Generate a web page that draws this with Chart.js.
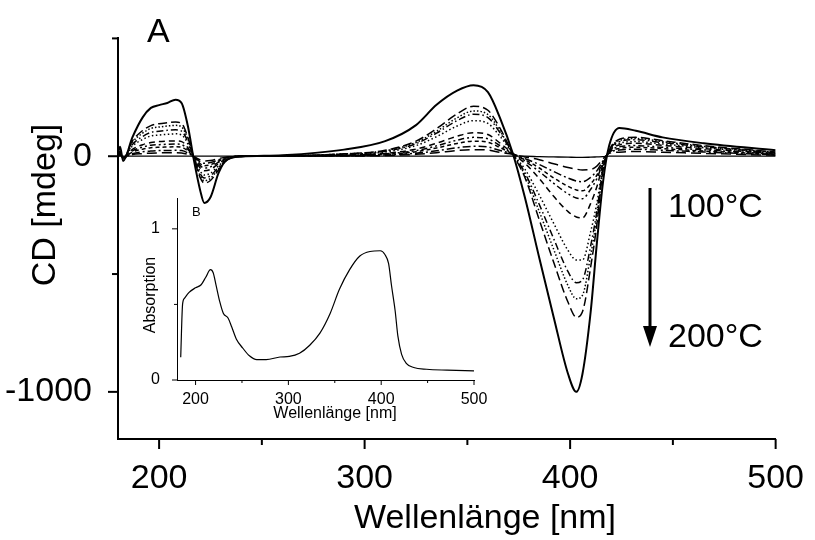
<!DOCTYPE html>
<html>
<head>
<meta charset="utf-8">
<script src="https://cdn.jsdelivr.net/npm/chart.js@4"></script>
<style>
  html, body { margin: 0; padding: 0; background: #fff; }
  #wrap { position: relative; width: 815px; height: 540px; }
  #main { position: absolute; left: 0; top: 0; }
  #inset { position: absolute; left: 120px; top: 180px; }
</style>
</head>
<body>
<div id="wrap">
  <canvas id="main" width="815" height="540"></canvas>
  <canvas id="inset" width="380" height="250"></canvas>
</div>
<script>
const FONT = "'Liberation Sans', Arial, Helvetica, sans-serif";

// CD spectra, mdeg, sampled on a shared wavelength grid (nm)
const WAVELENGTHS = [180, 181, 182.5, 187, 192, 196, 200, 204, 208, 211, 214, 217, 220, 222, 225, 229, 233, 240, 260, 290,
  310, 325, 335, 345, 353, 360, 366, 372, 378, 385, 392, 399, 403, 406, 410, 413, 416, 419, 424, 432, 445, 465, 500];

const CD_BASE = [0, 0, 0, 0, 0, 0, 0, 0, 0, 0, 0, 0, 0, 0, 0, 0, 0, 0, 0, 0,
  0, 0, 0, 0, 0, 0, 0, 0, 0, -2, -3, -4, -5, -5, -4, -3, -2, 0, 0, 0, 0, 0, 0];
const CD_T1 = [0, 4, -4, 7, 11, 13, 14, 15, 15, 14, 8, -2, -16, -20, -18, -10, -3, 0, 1, 1,
  3, 8, 15, 24, 28, 26, 16, 8, -3, -15, -32, -48, -55, -58, -56, -42, -12, 12, 17, 20, 17, 12, 4];
const CD_T2 = [0, 6, -5, 11, 19, 22, 24, 24, 25, 24, 14, -3, -24, -30, -27, -15, -5, 0, 1, 2,
  5, 13, 23, 36, 42, 39, 24, 10, -10, -35, -65, -93, -105, -108, -90, -62, -20, 15, 26, 30, 25, 18, 6];
const CD_T3 = [0, 8, -6, 18, 30, 36, 38, 39, 40, 38, 22, -4, -32, -40, -36, -20, -6, 0, 2, 3,
  8, 19, 35, 54, 64, 59, 36, 10, -15, -50, -92, -128, -143, -147, -118, -80, -25, 16, 33, 38, 32, 22, 8];
const CD_T4 = [0, 10, -6, 23, 39, 47, 49, 51, 52, 49, 29, -5, -40, -50, -45, -25, -8, 0, 2, 4,
  10, 24, 44, 68, 80, 74, 44, 12, -20, -65, -115, -160, -177, -180, -140, -95, -28, 18, 40, 45, 38, 27, 9];
const CD_T5 = [0, 12, -8, 29, 49, 58, 62, 64, 65, 62, 36, -6, -50, -62, -56, -31, -9, 0, 2, 5,
  12, 30, 55, 85, 100, 92, 55, 12, -30, -95, -170, -235, -258, -262, -200, -130, -35, 20, 48, 55, 46, 32, 11];
const CD_T6 = [0, 15, -8, 43, 71, 86, 90, 93, 95, 90, 52, -8, -64, -80, -72, -40, -12, 0, 2, 8,
  18, 45, 83, 128, 151, 139, 83, 12, -55, -165, -285, -400, -440, -440, -320, -200, -45, 22, 55, 62, 52, 36, 13];
const CD_T7 = [0, 20, -10, 50, 84, 101, 106, 110, 112, 106, 62, -9, -74, -92, -83, -46, -14, 0, 2, 9,
  21, 53, 98, 151, 178, 164, 98, 12, -70, -205, -350, -490, -537, -525, -380, -235, -50, 25, 62, 70, 58, 40, 15];
const CD_T8 = [0, 20, -10, 59, 98, 118, 124, 128, 131, 124, 72, -10, -83, -104, -94, -52, -16, 0, 2, 10,
  23, 58, 106, 163, 192, 177, 106, 12, -80, -235, -395, -550, -605, -590, -420, -260, -55, 25, 67, 75, 62, 42, 16];
const CD_T9 = [0, 20, -10, 65, 109, 130, 138, 142, 145, 138, 80, -10, -91, -114, -103, -57, -17, 0, 2, 10,
  25, 64, 117, 180, 212, 195, 117, 12, -90, -270, -450, -620, -683, -660, -470, -290, -60, 25, 72, 80, 66, 45, 18];
const CD_MAX = [10, 40, -20, 80, 165, 205, 217, 226, 240, 225, 128, -20, -145, -198, -174, -70, -15, -2, 4, 28,
  64, 132, 218, 278, 301, 272, 160, 15, -175, -432, -683, -924, -1000, -924, -660, -370, -110, 45, 120, 108, 80, 55, 25];

const X_TICKS = [200, 250, 300, 350, 400, 450, 500];
const Y_TICKS = [-1000, -500, 0, 500];

// inset B: absorption spectrum
const INSET_WAVELENGTHS = [184, 186, 188, 193, 200, 206, 211, 216, 219, 222, 226, 230, 235, 239, 244, 251, 258, 266, 276, 291,
  301, 312, 323, 334, 345, 355, 366, 377, 388, 399, 404, 408, 411, 415, 418, 422, 427, 435, 449, 471, 500];
const ABSORPTION = [0.15, 0.50, 0.54, 0.58, 0.61, 0.63, 0.68, 0.73, 0.71, 0.63, 0.52, 0.44, 0.41, 0.35, 0.27, 0.21, 0.16, 0.135, 0.135, 0.152,
  0.156, 0.177, 0.23, 0.31, 0.44, 0.60, 0.73, 0.82, 0.85, 0.855, 0.83, 0.77, 0.63, 0.46, 0.29, 0.17, 0.11, 0.083, 0.071, 0.065, 0.06];
const INSET_X_TICKS = [200, 250, 300, 350, 400, 450, 500];
const INSET_Y_TICKS = [0, 0.5, 1];

const SERIES = [
  { values: CD_BASE, dash: [], width: 1.3 },
  { values: CD_T1, dash: [10, 5], width: 1.5 },
  { values: CD_T2, dash: [8, 3, 2, 3], width: 1.5 },
  { values: CD_T3, dash: [4, 3], width: 1.5 },
  { values: CD_T4, dash: [6, 3, 2, 3, 2, 3], width: 1.5 },
  { values: CD_T5, dash: [6, 4], width: 1.5 },
  { values: CD_T6, dash: [1.5, 2.5], width: 1.5 },
  { values: CD_T7, dash: [7, 3, 1.5, 3], width: 1.5 },
  { values: CD_T8, dash: [1.5, 2], width: 1.5 },
  { values: CD_T9, dash: [9, 4], width: 1.5 },
  { values: CD_MAX, dash: [], width: 2 },
];

function toPoints(xs, ys) {
  return xs.map((x, index) => ({ x, y: ys[index] }));
}

// outward tick marks, long for labelled values, short for the others
const tickMarks = {
  id: 'tickMarks',
  afterDraw(chart, args, opts) {
    const { ctx, scales: { x, y } } = chart;
    ctx.save();
    ctx.strokeStyle = '#000';
    ctx.lineWidth = opts.lineWidth;

    x.ticks.forEach((tick) => {
      const px = x.getPixelForValue(tick.value);
      const len = tick.value % opts.xMajor === 0 ? opts.major : opts.minor;
      ctx.beginPath();
      ctx.moveTo(px, x.top);
      ctx.lineTo(px, x.top + len);
      ctx.stroke();
    });

    y.ticks.forEach((tick) => {
      const py = y.getPixelForValue(tick.value);
      const len = tick.value % opts.yMajor === 0 ? opts.major : opts.minor;
      ctx.beginPath();
      ctx.moveTo(y.right, py);
      ctx.lineTo(y.right - len, py);
      ctx.stroke();
    });

    ctx.restore();
  },
};

const mainText = {
  id: 'mainText',
  afterDraw(chart) {
    const { ctx } = chart;
    ctx.save();
    ctx.fillStyle = '#000';
    ctx.font = `34px ${FONT}`;
    ctx.textBaseline = 'alphabetic';

    ctx.textAlign = 'left';
    ctx.fillText('A', 147, 42);
    ctx.fillText('100°C', 668, 217);
    ctx.fillText('200°C', 668, 347);

    ctx.textAlign = 'center';
    ctx.fillText('Wellenlänge [nm]', 485, 528);

    ctx.save();
    ctx.translate(55, 205);
    ctx.rotate(-Math.PI / 2);
    ctx.fillText('CD [mdeg]', 0, 0);
    ctx.restore();

    // arrow 100°C -> 200°C
    ctx.strokeStyle = '#000';
    ctx.lineWidth = 3;
    ctx.beginPath();
    ctx.moveTo(650, 188);
    ctx.lineTo(650, 330);
    ctx.stroke();
    ctx.beginPath();
    ctx.moveTo(643, 326);
    ctx.lineTo(657, 326);
    ctx.lineTo(650, 347);
    ctx.closePath();
    ctx.fill();

    ctx.restore();
  },
};

const insetText = {
  id: 'insetText',
  afterDraw(chart) {
    const { ctx } = chart;
    ctx.save();
    ctx.fillStyle = '#000';
    ctx.textBaseline = 'alphabetic';

    ctx.font = `13px ${FONT}`;
    ctx.textAlign = 'left';
    ctx.fillText('B', 72, 36);

    ctx.font = `16px ${FONT}`;
    ctx.textAlign = 'center';
    ctx.fillText('Wellenlänge [nm]', 215, 238);

    ctx.save();
    ctx.translate(35, 115);
    ctx.rotate(-Math.PI / 2);
    ctx.fillText('Absorption', 0, 0);
    ctx.restore();

    ctx.restore();
  },
};

new Chart(document.getElementById('main'), {
  type: 'line',
  data: {
    datasets: SERIES.map((series) => ({
      data: toPoints(WAVELENGTHS, series.values),
      borderColor: '#000',
      borderWidth: series.width,
      borderDash: series.dash,
      pointRadius: 0,
      fill: false,
      cubicInterpolationMode: 'monotone',
    })),
  },
  options: {
    responsive: false,
    animation: false,
    devicePixelRatio: 1,
    layout: { padding: { left: 0, right: 32, top: 12, bottom: 0 } },
    plugins: {
      legend: { display: false },
      tooltip: { enabled: false },
      tickMarks: { lineWidth: 2, major: 10, minor: 6, xMajor: 100, yMajor: 1000 },
    },
    scales: {
      x: {
        type: 'linear',
        min: 180,
        max: 500,
        afterBuildTicks(scale) {
          scale.ticks = X_TICKS.map((value) => ({ value }));
        },
        afterFit(scale) {
          scale.height = 101;
        },
        grid: { display: false },
        border: { display: true, color: '#000', width: 2 },
        ticks: {
          autoSkip: false,
          maxRotation: 0,
          padding: 11,
          color: '#000',
          font: { family: FONT, size: 34 },
          callback: (value) => (value % 100 === 0 ? String(value) : ''),
        },
      },
      y: {
        type: 'linear',
        min: -1200,
        max: 500,
        afterBuildTicks(scale) {
          scale.ticks = Y_TICKS.map((value) => ({ value }));
        },
        afterFit(scale) {
          scale.width = 118;
        },
        grid: { display: false },
        border: { display: true, color: '#000', width: 2 },
        ticks: {
          autoSkip: false,
          padding: 18,
          color: '#000',
          font: { family: FONT, size: 34 },
          callback: (value) => (value === 0 || value === -1000 ? String(value) : ''),
        },
      },
    },
  },
  plugins: [tickMarks, mainText],
});

new Chart(document.getElementById('inset'), {
  type: 'line',
  data: {
    datasets: [{
      data: toPoints(INSET_WAVELENGTHS, ABSORPTION),
      borderColor: '#000',
      borderWidth: 1.2,
      pointRadius: 0,
      fill: false,
      cubicInterpolationMode: 'monotone',
    }],
  },
  options: {
    responsive: false,
    animation: false,
    devicePixelRatio: 1,
    layout: { padding: { left: 0, right: 26, top: 8, bottom: 0 } },
    plugins: {
      legend: { display: false },
      tooltip: { enabled: false },
      tickMarks: { lineWidth: 1, major: 5, minor: 3, xMajor: 100, yMajor: 1 },
    },
    scales: {
      x: {
        type: 'linear',
        min: 180,
        max: 500,
        afterBuildTicks(scale) {
          scale.ticks = INSET_X_TICKS.map((value) => ({ value }));
        },
        afterFit(scale) {
          scale.height = 50;
        },
        grid: { display: false },
        border: { display: true, color: '#000', width: 1 },
        ticks: {
          autoSkip: false,
          maxRotation: 0,
          padding: 2,
          color: '#000',
          font: { family: FONT, size: 16 },
          callback: (value) => (value % 100 === 0 ? String(value) : ''),
        },
      },
      y: {
        type: 'linear',
        min: 0,
        max: 1.2,
        afterBuildTicks(scale) {
          scale.ticks = INSET_Y_TICKS.map((value) => ({ value }));
        },
        afterFit(scale) {
          scale.width = 57;
        },
        grid: { display: false },
        border: { display: true, color: '#000', width: 1 },
        ticks: {
          autoSkip: false,
          padding: 9,
          color: '#000',
          font: { family: FONT, size: 16 },
          callback: (value) => (value === 0 || value === 1 ? String(value) : ''),
        },
      },
    },
  },
  plugins: [tickMarks, insetText],
});
</script>
</body>
</html>
